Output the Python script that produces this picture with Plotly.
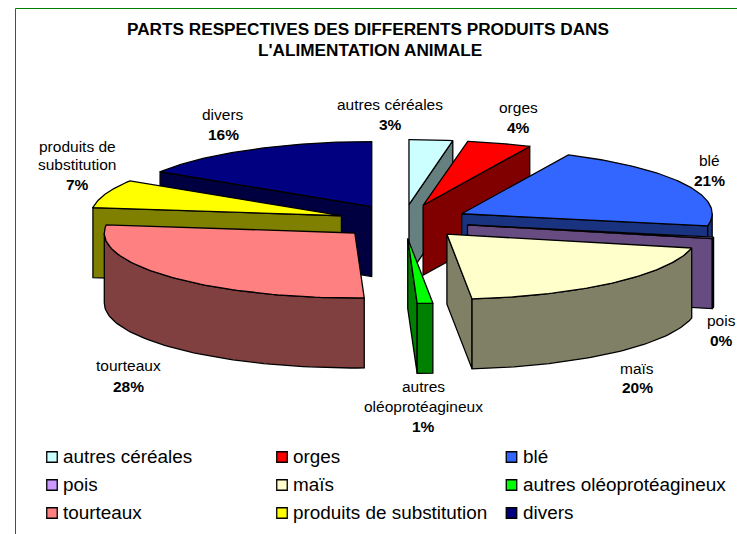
import numpy as np
import plotly.graph_objects as go

categories = ["autres céréales", "orges", "blé", "pois", "maïs",
              "autres oléoprotéagineux", "tourteaux", "produits de substitution", "divers"]
values = [2.8, 4.2, 21.0, 0.4, 20.0, 1.0, 27.6, 7.0, 16.0]
percent_labels = ["3%", "4%", "21%", "0%", "20%", "1%", "28%", "7%", "16%"]
top_colors = ["#CCFFFF", "#FF0000", "#3366FF", "#CC99FF", "#FFFFCC",
              "#00FF00", "#FF8080", "#FFFF00", "#000080"]
side_colors = ["#668080", "#800000", "#1A3380", "#664C80", "#808066",
               "#008000", "#804040", "#808000", "#000040"]
draw_order = [8, 0, 1, 7, 2, 6, 3, 4, 5]
title_lines = ["PARTS RESPECTIVES DES DIFFERENTS PRODUITS DANS", "L'ALIMENTATION ANIMALE"]

# pie projection
CX, CY, RX, RY, EXPLODE, DEPTH = 403.2, 221.5, 250.5, 65.0, 0.262, 70.0
LINE = 1.3
FONT = "Liberation Sans"

# label lines: (x, y, text, bold)
label_lines = [
    (390, 104, "autres céréales", 0), (390, 124, "3%", 1),
    (518, 107, "orges", 0), (518, 127, "4%", 1),
    (709, 160, "blé", 0), (709, 180, "21%", 1),
    (721, 320, "pois", 0), (721, 340, "0%", 1),
    (637, 368, "maïs", 0), (637, 387, "20%", 1),
    (423, 386, "autres", 0), (423, 406, "oléoprotéagineux", 0), (423, 426, "1%", 1),
    (128, 365, "tourteaux", 0), (128, 386, "28%", 1),
    (77, 146, "produits de", 0), (77, 164, "substitution", 0), (77, 184, "7%", 1),
    (223, 114, "divers", 0), (223, 134, "16%", 1),
]
legend_cols = [52, 282, 511.5]
legend_rows = [457, 485, 513]

fig = go.Figure()


def pt(cx, cy, deg, dz=0.0):
    a = np.radians(deg)
    return cx + RX * np.sin(a), cy - RY * np.cos(a) + dz


def poly(xs, ys, color):
    fig.add_trace(go.Scatter(x=list(xs) + [xs[0]], y=list(ys) + [ys[0]], mode="lines", fill="toself",
                             fillcolor=color, line=dict(color="black", width=LINE),
                             hoverinfo="skip", showlegend=False))


bounds = np.concatenate([[0], np.cumsum(values)]) * 3.6
for i in draw_order:
    a0, a1 = bounds[i], bounds[i + 1]
    mid = np.radians((a0 + a1) / 2)
    cx = CX + EXPLODE * RX * np.sin(mid)
    cy = CY - EXPLODE * RY * np.cos(mid)
    side = side_colors[i]
    # radial walls that face the viewer
    for ang, visible in ((a0, np.sin(np.radians(a0)) < -1e-6), (a1, np.sin(np.radians(a1)) > 1e-6)):
        if visible or abs(ang - 360) < 1e-6:
            x1, y1 = pt(cx, cy, ang)
            poly([cx, x1, x1, cx], [cy, y1, y1 + DEPTH, cy + DEPTH], side)
    # outer wall (front half only)
    lo, hi = max(a0, 90), min(a1, 270)
    if hi > lo:
        arc = np.linspace(lo, hi, 60)
        x, y = pt(cx, cy, arc)
        poly(np.concatenate([x, x[::-1]]), np.concatenate([y, y[::-1] + DEPTH]), side)
    # top face
    arc = np.linspace(a0, a1, 80)
    x, y = pt(cx, cy, arc)
    poly(np.concatenate([[cx], x]), np.concatenate([[cy], y]), top_colors[i])

annotations = []


def text(x, y, s, size, bold=False, xanchor="center"):
    annotations.append(dict(x=x, y=y, xref="x", yref="y", text=f"<b>{s}</b>" if bold else s,
                            showarrow=False, xanchor=xanchor, yanchor="middle",
                            font=dict(family=FONT, size=size, color="black")))


text(368, 29, title_lines[0], 17.2, True)
text(370, 50, title_lines[1], 17.2, True)
for x, y, s, b in label_lines:
    text(x, y, s, 15.5, bool(b))

for k, name in enumerate(categories):
    lx = legend_cols[k % 3]
    ly = legend_rows[k // 3]
    fig.add_trace(go.Scatter(x=[lx], y=[ly], mode="markers", hoverinfo="skip", showlegend=False,
                             marker=dict(symbol="square", size=10.5, color=top_colors[k],
                                         line=dict(color="black", width=1.3))))
    text(lx + 9, ly - 1, name, 18.9, False, "left")

fig.update_layout(
    width=737, height=534, margin=dict(l=0, r=0, t=0, b=0), autosize=False,
    paper_bgcolor="white", plot_bgcolor="white", annotations=annotations,
    xaxis=dict(range=[0, 737], visible=False, fixedrange=True),
    yaxis=dict(range=[534, 0], visible=False, fixedrange=True),
    shapes=[
        dict(type="line", x0=15.5, x1=15.5, y0=8.5, y1=534, xref="x", yref="y", line=dict(color="#008000", width=1)),
        dict(type="line", x0=15.5, x1=737, y0=8.5, y1=8.5, xref="x", yref="y", line=dict(color="#008000", width=1)),
    ],
)
fig.write_html("out.html", config={"displayModeBar": False},
               post_script="document.body.style.margin='0';document.body.style.overflow='hidden';")
